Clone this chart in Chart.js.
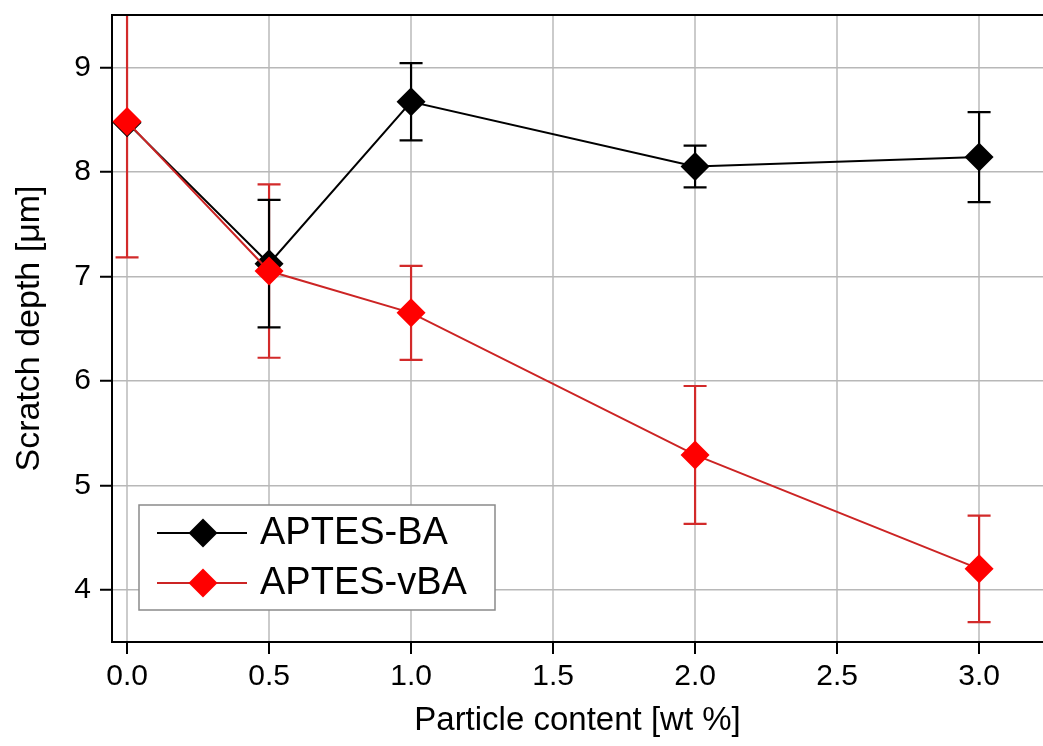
<!DOCTYPE html>
<html>
<head>
<meta charset="utf-8">
<script src="https://cdn.jsdelivr.net/npm/chart.js@4"></script>
<style>
  html, body { margin: 0; padding: 0; background: #fff; }
  #myChart { display: block; }
</style>
</head>
<body>
<canvas id="myChart" width="1043" height="746"></canvas>
<script>
// values
const particleContent = [0.0, 0.5, 1.0, 2.0, 3.0];
const depthBA   = [8.47, 7.12, 8.67, 8.05, 8.14];
const errBA     = [0.00, 0.61, 0.37, 0.20, 0.43];
const depthVBA  = [8.48, 7.05, 6.65, 5.29, 4.20];
const errVBA    = [1.30, 0.83, 0.45, 0.66, 0.51];
const xTicks = [0.0, 0.5, 1.0, 1.5, 2.0, 2.5, 3.0];
const yTicks = [4, 5, 6, 7, 8, 9];
const seriesNames = ['APTES-BA', 'APTES-vBA'];

const FONT = "'Liberation Sans', Arial, sans-serif";

function toPoints(xs, ys) {
  return xs.map((x, i) => ({x: x, y: ys[i]}));
}

function noPadding(scale) {
  scale.paddingTop = 0;
  scale.paddingBottom = 0;
  scale.paddingLeft = 0;
  scale.paddingRight = 0;
}

// error bars drawn through the chart scales
const errorBars = {
  id: 'errorBars',
  beforeDatasetsDraw(chart) {
    const ctx = chart.ctx;
    const xs = chart.scales.x, ys = chart.scales.y;
    const a = chart.chartArea;
    const sets = [
      {vals: depthVBA, errs: errVBA, color: '#d22a2a'},
      {vals: depthBA, errs: errBA, color: '#000000'}
    ];
    ctx.save();
    ctx.beginPath();
    ctx.rect(a.left, a.top, a.right - a.left, a.bottom - a.top);
    ctx.clip();
    sets.forEach(s => {
      ctx.strokeStyle = s.color;
      ctx.lineWidth = 2.2;
      particleContent.forEach((x, i) => {
        if (!s.errs[i]) return;
        const px = xs.getPixelForValue(x);
        const top = ys.getPixelForValue(s.vals[i] + s.errs[i]);
        const bot = ys.getPixelForValue(s.vals[i] - s.errs[i]);
        ctx.beginPath();
        ctx.moveTo(px, top); ctx.lineTo(px, bot);
        ctx.moveTo(px - 11.5, top); ctx.lineTo(px + 11.5, top);
        ctx.moveTo(px - 11.5, bot); ctx.lineTo(px + 11.5, bot);
        ctx.stroke();
      });
    });
    ctx.restore();
  },
  afterDraw(chart) {
    const ctx = chart.ctx;
    const a = chart.chartArea;
    // top frame line
    ctx.save();
    ctx.strokeStyle = '#000';
    ctx.lineWidth = 2;
    ctx.beginPath();
    ctx.moveTo(a.left - 1, a.top);
    ctx.lineTo(a.right, a.top);
    ctx.stroke();

    // legend box
    const bx = a.left + 27, bw = 356, bh = 105;
    const by = a.bottom - 32 - bh;
    ctx.fillStyle = '#fff';
    ctx.fillRect(bx, by, bw, bh);
    ctx.strokeStyle = '#8a8a8a';
    ctx.lineWidth = 1.5;
    ctx.strokeRect(bx, by, bw, bh);

    const order = [1, 0]; // APTES-BA first
    order.forEach((di, row) => {
      const ds = chart.data.datasets[di];
      const cy = by + 28 + row * 50;
      ctx.strokeStyle = ds.borderColor;
      ctx.lineWidth = 2;
      ctx.beginPath();
      ctx.moveTo(bx + 18, cy);
      ctx.lineTo(bx + 108, cy);
      ctx.stroke();
      ctx.fillStyle = ds.pointBackgroundColor;
      ctx.beginPath();
      ctx.moveTo(bx + 64, cy - 14.5);
      ctx.lineTo(bx + 78.5, cy);
      ctx.lineTo(bx + 64, cy + 14.5);
      ctx.lineTo(bx + 49.5, cy);
      ctx.closePath();
      ctx.fill();
      ctx.fillStyle = '#000';
      ctx.font = '38px ' + FONT;
      ctx.textBaseline = 'middle';
      ctx.textAlign = 'left';
      ctx.fillText(ds.label, bx + 121, cy + 1);
    });
    ctx.restore();
  }
};

const chart_obj = document.getElementById('myChart');

new Chart(chart_obj, {
  type: 'line',
  data: {
    datasets: [{
      label: seriesNames[1],
      data: toPoints(particleContent, depthVBA),
      borderColor: '#cc2424',
      borderWidth: 2,
      pointStyle: 'rectRot',
      pointRadius: 14.5,
      pointBackgroundColor: '#ff0000',
      pointBorderColor: '#ff0000',
      pointBorderWidth: 0,
      order: 0
    }, {
      label: seriesNames[0],
      data: toPoints(particleContent, depthBA),
      borderColor: '#000000',
      borderWidth: 2,
      pointStyle: 'rectRot',
      pointRadius: 14.5,
      pointBackgroundColor: '#000000',
      pointBorderColor: '#000000',
      pointBorderWidth: 0,
      order: 1
    }]
  },
  options: {
    responsive: false,
    animation: false,
    devicePixelRatio: 1,
    layout: { autoPadding: false, padding: { top: 15, right: 0, left: 0, bottom: 0 } },
    plugins: {
      legend: { display: false },
      tooltip: { enabled: false }
    },
    scales: {
      x: {
        type: 'linear',
        min: -0.053,
        max: 3.225,
        afterBuildTicks: scale => { scale.ticks = xTicks.map(v => ({value: v})); },
        afterFit: scale => { scale.height = 104; noPadding(scale); },
        ticks: {
          callback: v => v.toFixed(1),
          color: '#000',
          font: { family: FONT, size: 30 },
          padding: 5,
          maxRotation: 0
        },
        grid: {
          color: '#cbcbcb',
          lineWidth: 2,
          tickColor: '#000',
          tickLength: 12,
          tickWidth: 2
        },
        border: { color: '#000', width: 2 },
        title: {
          display: true,
          text: 'Particle content [wt %]',
          color: '#000',
          font: { family: FONT, size: 33 },
          padding: { top: 0, bottom: 5 }
        }
      },
      y: {
        type: 'linear',
        min: 3.5,
        max: 9.5,
        afterBuildTicks: scale => { scale.ticks = yTicks.map(v => ({value: v})); },
        afterFit: scale => { scale.width = 112; noPadding(scale); },
        ticks: {
          callback: v => String(v),
          color: '#000',
          font: { family: FONT, size: 30 },
          padding: 9
        },
        grid: {
          color: '#b8b8b8',
          lineWidth: 1.5,
          tickColor: '#000',
          tickLength: 12,
          tickWidth: 2
        },
        border: { color: '#000', width: 2 },
        title: {
          display: true,
          text: 'Scratch depth [μm]',
          color: '#000',
          font: { family: FONT, size: 34 },
          padding: { top: 9, bottom: 0 }
        }
      }
    }
  },
  plugins: [errorBars]
});
</script>
</body>
</html>
